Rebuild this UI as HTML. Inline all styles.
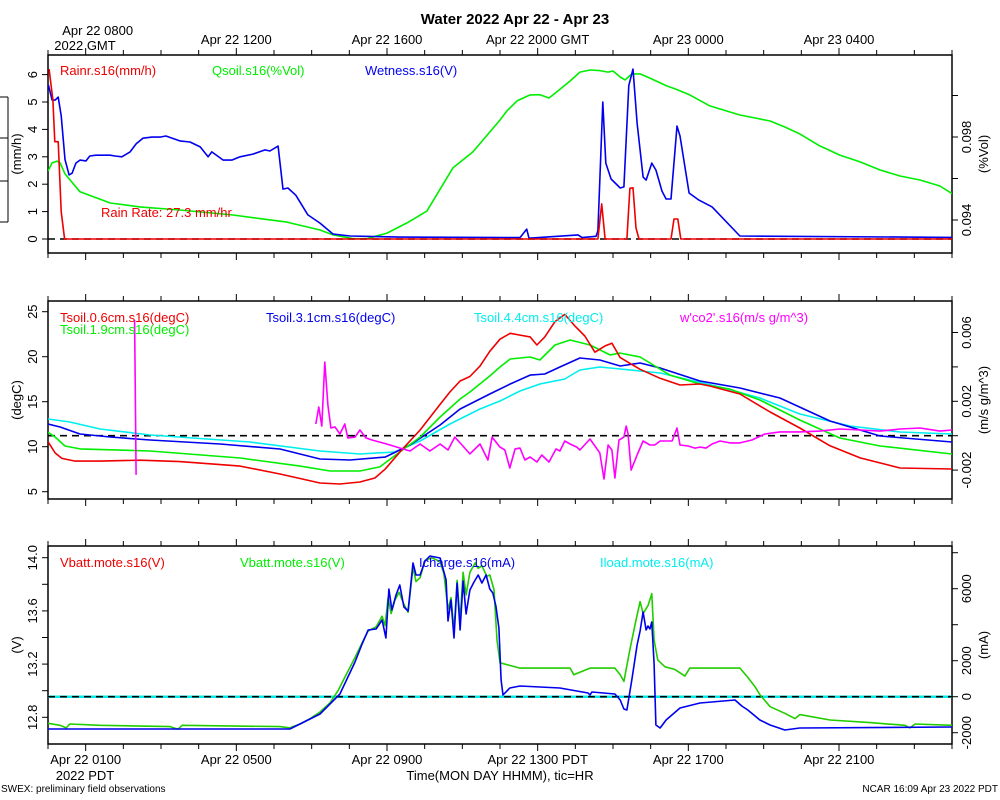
<!DOCTYPE html>
<html><head><meta charset="utf-8"><title>Water 2022 Apr 22 - Apr 23</title>
<style>
html,body{margin:0;padding:0;background:#fff;}
svg{display:block;font-family:"Liberation Sans",sans-serif;}
</style></head>
<body>
<svg id="chart" width="1000" height="800" viewBox="0 0 1000 800" xmlns="http://www.w3.org/2000/svg">
<rect x="0" y="0" width="1000" height="800" fill="#fff"/>
<text x="515" y="24" font-size="15" font-weight="bold" text-anchor="middle">Water 2022 Apr 22 - Apr 23</text>
<text x="1" y="792" font-size="10">SWEX: preliminary field observations</text>
<text x="998" y="792" font-size="10" text-anchor="end">NCAR 16:09 Apr 23 2022 PDT</text>
<text x="500" y="780" font-size="13" text-anchor="middle">Time(MON DAY HHMM), tic=HR</text>
<g stroke="#000" stroke-width="1">
<line x1="8" y1="97" x2="8" y2="222"/><line x1="0" y1="97" x2="8" y2="97"/><line x1="0" y1="138" x2="8" y2="138"/><line x1="0" y1="181" x2="8" y2="181"/><line x1="0" y1="222" x2="8" y2="222"/>
</g>
<g id="layer"></g>
</svg>
<script>
// ---------- Data (hours PDT from Apr 22 0000) ----------
const rainT = [0.03,0.13,0.18,0.27,0.35,0.44,14.6,14.7,14.79,15.37,15.45,15.53,15.61,15.69,16.54,16.62,16.72,16.80,24];
const rainV = [6.2,5.07,3.55,3.55,1.0,0,0,1.28,0,0,1.85,1.87,0.4,0,0,0.73,0.73,0,0];
const wetT = [0.01,0.11,0.19,0.27,0.35,0.45,0.56,0.64,0.74,0.85,1.01,1.11,1.27,1.65,1.78,1.96,2.18,2.34,2.52,2.76,2.97,3.13,3.5,3.77,4.04,4.25,4.35,4.65,4.88,5.1,5.44,5.76,5.89,6.11,6.24,6.37,6.58,6.9,7.22,7.57,8.02,9.34,12.53,12.71,12.77,14.07,14.18,14.55,14.6,14.73,14.81,14.95,15.19,15.29,15.42,15.53,15.64,15.8,15.88,16.03,16.14,16.3,16.41,16.54,16.7,16.78,17.02,17.28,17.63,18.37,24];
const wetV = [5.62,5.07,5.07,5.18,4.5,2.9,2.34,2.4,2.77,2.88,2.85,3.03,3.06,3.06,3.03,3.0,3.18,3.47,3.68,3.72,3.72,3.76,3.58,3.54,3.36,3.0,3.18,2.88,2.88,3.0,3.1,3.25,3.21,3.39,1.82,1.86,1.6,0.88,0.58,0.18,0.11,0.07,0.05,0.36,0.03,0.15,0.05,0.1,0.3,5.0,2.77,2.19,1.86,1.9,5.6,6.2,4.23,2.26,2.15,2.77,2.52,1.75,1.46,1.46,4.12,3.76,1.68,1.42,1.17,0.11,0.06];
const qsoilT = [0,0.11,0.24,0.32,0.45,0.85,1.65,2.44,3.5,4.91,6.34,7.22,7.57,8.1,8.47,9.0,9.53,10.06,10.75,11.28,12.0,12.18,12.45,12.8,13.06,13.3,13.51,13.86,14.12,14.39,14.65,14.87,15.0,15.19,15.32,15.5,15.72,15.98,16.43,16.64,17.04,17.57,18.37,19.17,19.56,19.96,20.49,21.02,21.56,22.09,22.62,23.15,23.68,24];
const qsoilV = [0.09636,0.09675,0.09684,0.09675,0.09622,0.09536,0.09482,0.09463,0.09448,0.09424,0.0939,0.09352,0.09328,0.0931,0.0931,0.09337,0.09386,0.09443,0.09651,0.09728,0.09882,0.09925,0.09974,0.10003,0.10004,0.09988,0.10018,0.1007,0.10113,0.10123,0.1012,0.10113,0.10118,0.10089,0.10075,0.10104,0.10104,0.10084,0.10046,0.10033,0.10003,0.0995,0.09906,0.09877,0.09848,0.09815,0.09757,0.09713,0.0968,0.09641,0.09612,0.09593,0.09564,0.09527];

const t06T = [0,0.19,0.37,0.72,1.38,2.44,3.5,5.1,6.16,7.22,7.75,8.28,8.68,8.95,9.34,9.88,10.41,10.67,10.94,11.2,11.47,11.73,12.0,12.27,12.53,12.8,12.98,13.19,13.46,13.72,13.99,14.25,14.52,14.79,14.97,15.19,15.72,16.25,16.78,17.31,17.57,18.37,19.17,19.96,20.76,21.56,22.62,24];
const t06V = [10.56,9.3,8.7,8.4,8.4,8.5,8.35,7.85,6.97,5.97,5.86,6.08,6.52,7.5,9.4,11.86,14.7,16.08,17.3,17.8,18.96,20.6,21.94,22.6,22.4,22.2,21.3,22.2,23.9,24.7,23.4,22.3,20.5,21.2,21.5,19.9,18.6,17.6,16.85,16.97,16.74,15.86,13.86,12.08,10.1,8.75,7.63,7.52];
const t19T = [0,0.19,0.45,0.85,2.71,5.1,6.69,7.49,8.28,8.81,9.34,9.88,10.41,10.94,11.2,11.73,12.0,12.27,12.8,13.06,13.46,13.86,14.39,14.92,15.19,15.72,16.51,17.31,18.1,18.9,19.96,21.02,22.09,24];
const t19V = [11.6,11.07,10.08,9.75,9.52,8.74,7.85,7.3,7.3,7.75,9.41,11.07,13.3,15.3,16.08,17.85,18.85,19.74,19.97,19.63,21.3,21.86,21.3,20.2,20.4,19.97,17.96,16.97,16.4,15.19,12.97,10.97,10.08,9.19];
const t31T = [0,0.32,0.85,1.65,2.71,4.57,6.16,7.22,8.02,8.95,9.61,10.41,10.94,11.73,12.27,12.8,13.19,13.59,14.12,14.65,15.19,15.72,16.25,17.31,18.37,19.43,20.76,22.09,24];
const t31V = [12.52,12.19,11.41,11.08,10.74,10.3,9.74,8.63,8.52,8.85,10.19,12.41,14.19,15.86,16.97,17.96,18.08,18.85,19.86,19.63,18.97,19.3,18.74,17.3,16.52,15.41,12.86,11.19,10.52];
const t44T = [0,0.58,1.38,2.71,5.36,7.22,8.28,9.21,9.88,10.67,11.47,12.0,12.53,13.06,13.72,14.12,14.65,15.19,15.72,16.25,17.04,17.84,18.9,19.96,21.29,22.62,24];
const t44V = [13.08,12.74,11.97,11.3,10.52,9.52,9.19,9.41,10.63,12.52,14.19,15.08,16.19,16.97,17.52,18.52,18.85,18.63,18.41,18.19,17.41,16.63,15.41,13.63,12.3,11.63,11.41];
const co2SpikeT = [2.3,2.34];
const co2SpikeV = [0.00673,-0.00228];
const co2T = [7.11,7.19,7.27,7.35,7.43,7.51,7.62,7.75,7.88,7.96,8.15,8.28,8.44,8.6,8.81,9.08,9.35,9.61,9.88,10.14,10.41,10.62,10.8,10.99,11.2,11.47,11.68,11.79,12.0,12.13,12.26,12.4,12.53,12.66,12.8,12.98,13.11,13.3,13.49,13.59,13.72,13.86,14.04,14.12,14.39,14.65,14.76,14.87,14.97,15.05,15.16,15.29,15.35,15.4,15.48,15.64,15.8,15.98,16.11,16.25,16.43,16.57,16.7,16.78,16.99,17.18,17.31,17.47,17.63,17.84,18.1,18.37,18.69,19.03,19.43,19.96,20.49,21.02,21.56,22.09,22.62,23.15,23.68,24];
const co2V = [0.00068,0.00167,0.00056,0.00428,0.00178,0.00045,0.00051,0.0001,0.00068,-0.00013,-0.00008,0.00033,-0.00013,-0.00025,-0.00037,-0.00054,-0.00072,-0.00089,-0.00048,-0.00089,-0.00048,-0.00083,-0.00008,-0.00054,-0.00106,-0.00048,-0.00141,-0.00008,-0.00066,-0.00083,-0.00188,-0.00077,-0.00072,-0.00141,-0.00124,-0.00153,-0.00112,-0.00153,-0.00077,-0.00089,-0.00031,-0.00048,-0.00066,-0.00083,-0.00019,-0.001,-0.00252,-0.00054,-0.00083,-0.00246,-0.00025,-0.00008,0.00056,0.0001,-0.002,-0.00112,-0.00031,-0.00054,-0.00054,-0.00031,-0.00031,-0.00031,0.00045,-0.00054,-0.0006,-0.00072,-0.00066,-0.00072,-0.00048,-0.00031,-0.00042,-0.00042,-0.00025,0.0001,0.00022,0.00022,0.00027,0.00039,0.00033,0.00027,0.00039,0.00045,0.00027,0.00033];

const vbattT = [0,0.32,0.48,0.58,1.38,3.24,3.45,3.56,6.16,6.42,6.69,6.96,7.22,7.49,7.7,7.88,8.15,8.34,8.5,8.71,8.87,8.95,9.03,9.11,9.21,9.32,9.45,9.56,9.69,9.77,9.88,10.01,10.19,10.41,10.51,10.62,10.7,10.78,10.86,10.94,11.02,11.1,11.2,11.34,11.42,11.52,11.65,11.73,11.84,11.92,12.0,12.53,13.59,13.86,13.96,14.39,14.79,15.05,15.19,15.29,15.45,15.61,15.72,15.8,15.93,16.03,16.09,16.19,16.38,16.64,16.91,17.04,18.37,18.58,18.77,18.9,19.17,19.56,19.83,19.96,20.76,21.82,22.75,22.88,23.02,24];
const vbattV = [12.755,12.74,12.72,12.75,12.74,12.73,12.71,12.74,12.73,12.72,12.75,12.79,12.84,12.91,13.0,13.1,13.25,13.36,13.45,13.48,13.56,13.49,13.7,13.58,13.68,13.74,13.65,13.59,13.93,13.82,13.85,13.98,14.0,13.97,13.88,13.61,13.7,13.45,13.83,13.53,13.89,13.72,13.89,13.96,13.92,13.94,13.86,13.87,13.76,13.38,13.21,13.17,13.17,13.17,13.12,13.17,13.17,13.17,13.12,13.07,13.31,13.53,13.67,13.58,13.64,13.73,13.38,13.23,13.18,13.16,13.11,13.17,13.17,13.1,13.03,12.97,12.88,12.83,12.79,12.82,12.78,12.76,12.74,12.72,12.75,12.74];
const ichT = [0,6.42,6.69,7.22,7.75,8.15,8.34,8.5,8.71,8.87,8.97,9.05,9.13,9.24,9.34,9.45,9.56,9.69,9.77,9.88,10.01,10.14,10.41,10.57,10.62,10.7,10.78,10.86,10.94,11.02,11.1,11.2,11.31,11.42,11.52,11.63,11.73,11.81,11.89,11.97,12.03,12.08,12.26,12.53,13.59,14.34,14.39,14.44,15.05,15.19,15.29,15.37,15.5,15.64,15.72,15.8,15.88,15.93,15.98,16.03,16.09,16.14,16.25,16.41,16.78,17.31,18.24,18.42,18.58,18.9,19.17,19.56,19.96,24];
const ichV = [-1795,-1795,-1517,-961,150,1928,2928,3706,3761,4261,3261,5984,4817,5650,6206,4984,4761,7428,6762,6762,7540,7817,7706,6484,4206,5373,3261,6317,3706,6428,4595,5928,6373,6762,6317,6762,5984,5762,5040,3817,928,94,483,594,483,206,94,261,150,-183,-683,-739,928,2872,3650,4706,3706,3928,3761,4150,1817,-1572,-1739,-1295,-628,-350,-183,-517,-739,-1295,-1572,-1850,-1739,-1684];
const iloadT = [0,24];
const iloadV = [0,0];

const topLabels = ["Apr 22 0800","Apr 22 1200","Apr 22 1600","Apr 22 2000 GMT","Apr 23 0000","Apr 23 0400"];
const botLabels = ["Apr 22 0100","Apr 22 0500","Apr 22 0900","Apr 22 1300 PDT","Apr 22 1700","Apr 22 2100"];
const labelHours = [1,5,9,13,17,21];

// ---------- Scales ----------
const X0 = 48, X1 = 952;
function xs(h){ return X0 + h*(X1-X0)/24; }
const P = [{top:55,bot:253},{top:301,bot:499},{top:546,bot:744}];
function y1L(v){ return 239 - v*27.4; }
function y1R(v){ return 220 - (v-0.094)/0.002*41.5; }
function y2L(v){ return 491.7 - (v-5)*9.0; }
function y2R(v){ return 435.7 - v/0.002*34.4; }
function y3L(v){ return 557.7 + (14-v)*133; }
function y3R(v){ return 696.7 - v*0.018; }

const NS = "http://www.w3.org/2000/svg";
const layer = document.getElementById('layer');
function mk(tag, attrs, parent){ const e=document.createElementNS(NS,tag); for(const k in attrs) e.setAttribute(k,attrs[k]); (parent||layer).appendChild(e); return e; }

function series(T,V,yf,color,name,clipId,w){
  const n=Math.min(T.length,V.length); let d="";
  for(let i=0;i<n;i++) d+=(i?"L":"M")+xs(T[i]).toFixed(1)+","+yf(V[i]).toFixed(1);
  const p=mk('path',{d:d,fill:'none',stroke:color,'stroke-width':w||1.6,'stroke-linejoin':'round','clip-path':'url(#'+clipId+')'});
  
  
}
function txt(x,y,s,attrs,name){
  const t=mk('text',Object.assign({x:x,y:y,'font-size':13},attrs||{}));
  t.textContent=s;
  
  
  return t;
}
function rtxt(x,y,s,name,anchor){
  const t=mk('text',{x:0,y:0,'font-size':13,'text-anchor':anchor||'middle',transform:'translate('+x+','+y+') rotate(-90)'});
  t.textContent=s;
  
  
}

// clip paths
const defs=mk('defs',{});
P.forEach((p,i)=>{ const c=mk('clipPath',{id:'clip'+i},defs); mk('rect',{x:X0,y:p.top,width:X1-X0,height:p.bot-p.top},c); });

// frames & hour ticks
P.forEach((p,i)=>{
  const r=mk('rect',{x:X0,y:p.top,width:X1-X0,height:p.bot-p.top,fill:'none',stroke:'#000','stroke-width':1.5});
  
  
  for(let h=0;h<=24;h++){
    const x=xs(h); const major=labelHours.indexOf(h)>=0; const L=major?7:5;
    mk('line',{x1:x,y1:p.top,x2:x,y2:p.top-L,stroke:'#000','stroke-width':1});
    mk('line',{x1:x,y1:p.bot,x2:x,y2:p.bot+L,stroke:'#000','stroke-width':1});
  }
});
labelHours.forEach((h,i)=>{
  txt(xs(h)+(i===0?12:0),i===0?35:44,topLabels[i],{'text-anchor':'middle'},'top-time-label');
  txt(xs(h),764,botLabels[i],{'text-anchor':'middle'},'bottom-time-label');
});
txt(85,50,"2022 GMT",{'text-anchor':'middle'},'top-year-label');
txt(85,780,"2022 PDT",{'text-anchor':'middle'},'bottom-year-label');

function yTicks(vals,yf,side,labels,name){
  vals.forEach((v,i)=>{
    const y=yf(v);
    if(side==='L'){ mk('line',{x1:X0,y1:y,x2:X0-6,y2:y,stroke:'#000'}); if(labels[i]!=='') rtxt(37,y,labels[i],name); }
    else { mk('line',{x1:X1,y1:y,x2:X1+6,y2:y,stroke:'#000'}); if(labels[i]!=='') rtxt(971,y,labels[i],name); }
  });
}
// Panel 1 axes
yTicks([0,1,2,3,4,5,6],y1L,'L',["0","1","2","3","4","5","6"],'p1-left-tick');
yTicks([0.094,0.096,0.098,0.100],y1R,'R',["0.094","","0.098",""],'p1-right-tick');
rtxt(21,154,"(mm/h)",'p1-left-axis-title'); rtxt(988,154,"(%Vol)",'p1-right-axis-title');
// Panel 2 axes
yTicks([5,10,15,20,25],y2L,'L',["5","10","15","20","25"],'p2-left-tick');
yTicks([0.006,0.004,0.002,0,-0.002],y2R,'R',["0.006","","0.002","","-0.002"],'p2-right-tick');
rtxt(21,400,"(degC)",'p2-left-axis-title'); rtxt(988,400,"(m/s g/m^3)",'p2-right-axis-title');
// Panel 3 axes
yTicks([12.8,13.0,13.2,13.4,13.6,13.8,14.0],y3L,'L',["12.8","","13.2","","13.6","","14.0"],'p3-left-tick');
yTicks([8000,6000,4000,2000,0,-2000],y3R,'R',["","6000","","2000","0","-2000"],'p3-right-tick');
rtxt(21,645,"(V)",'p3-left-axis-title'); rtxt(988,645,"(mA)",'p3-right-axis-title');

// reference lines
function dash(y,name){ const l=mk('line',{x1:X0,y1:y,x2:X1,y2:y,stroke:'#000','stroke-width':1.6,'stroke-dasharray':'7,5'});   }

// Panel 1 series
series(qsoilT,qsoilV,y1R,'#00ee00','qsoil-line','clip0');
series(wetT,wetV,y1L,'#0000ee','wetness-line','clip0');
dash(y1L(0),'p1-zero-line');
series(rainT,rainV,y1L,'#ee0000','rain-rate-line','clip0');
// Panel 2 series
dash(y2R(0),'p2-zero-line');
series(t44T,t44V,y2L,'#00eeee','tsoil-4.4cm-line','clip1');
series(t31T,t31V,y2L,'#0000ee','tsoil-3.1cm-line','clip1');
series(t19T,t19V,y2L,'#00ee00','tsoil-1.9cm-line','clip1');
series(t06T,t06V,y2L,'#ee0000','tsoil-0.6cm-line','clip1');
series(co2SpikeT,co2SpikeV,y2R,'#ff00ff','wco2-spike-line','clip1');
series(co2T,co2V,y2R,'#ff00ff','wco2-line','clip1');
// Panel 3 series
series(iloadT,iloadV,y3R,'#00eeee','iload-line','clip2',2.5);
dash(y3R(0),'p3-zero-line');
series(vbattT,vbattV,y3L,'#22cc00','vbatt-line','clip2');
series(ichT,ichV,y3R,'#0000ee','icharge-line','clip2');

// legends
txt(60,75,"Rainr.s16(mm/h)",{fill:'#ee0000'},'legend-rainr');
txt(212,75,"Qsoil.s16(%Vol)",{fill:'#00ee00'},'legend-qsoil');
txt(365,75,"Wetness.s16(V)",{fill:'#0000ee'},'legend-wetness');
txt(101,217,"Rain Rate: 27.3 mm/hr",{fill:'#ee0000'},'rain-rate-annotation');
txt(60,322,"Tsoil.0.6cm.s16(degC)",{fill:'#ee0000'},'legend-tsoil-0.6');
txt(60,334,"Tsoil.1.9cm.s16(degC)",{fill:'#00ee00'},'legend-tsoil-1.9');
txt(266,322,"Tsoil.3.1cm.s16(degC)",{fill:'#0000ee'},'legend-tsoil-3.1');
txt(474,322,"Tsoil.4.4cm.s16(degC)",{fill:'#00eeee'},'legend-tsoil-4.4');
txt(680,322,"w'co2'.s16(m/s g/m^3)",{fill:'#ff00ff'},'legend-wco2');
txt(60,567,"Vbatt.mote.s16(V)",{fill:'#ee0000'},'legend-vbatt-red');
txt(240,567,"Vbatt.mote.s16(V)",{fill:'#00ee00'},'legend-vbatt-green');
txt(419,567,"Icharge.s16(mA)",{fill:'#0000ee'},'legend-icharge');
txt(600,567,"Iload.mote.s16(mA)",{fill:'#00eeee'},'legend-iload');
</script>
</body></html>
